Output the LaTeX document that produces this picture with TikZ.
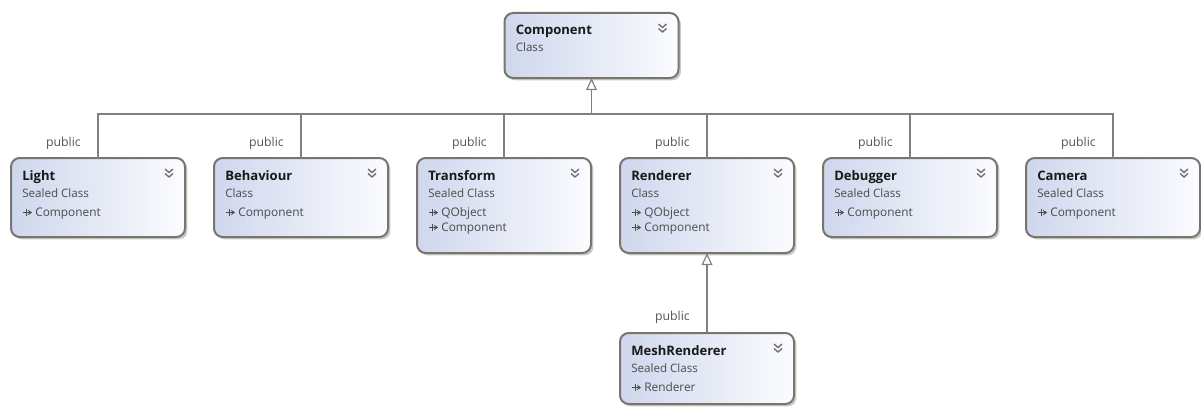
\documentclass[tikz,border=0pt]{standalone}
\usepackage{fontspec}
\setmainfont{Open Sans}
\usetikzlibrary{shadows,calc,arrows.meta}
\definecolor{bord}{RGB}{120,117,108}
\definecolor{boxl}{RGB}{207,215,237}
\definecolor{boxr}{RGB}{251,252,255}
\definecolor{tcol}{RGB}{25,25,25}
\definecolor{subcol}{RGB}{75,75,75}
\definecolor{pubcol}{RGB}{85,85,85}
\definecolor{conncol}{RGB}{128,128,128}
\definecolor{chevcol}{RGB}{110,110,110}
\tikzset{
  cls/.style={draw=bord, line width=1.5pt, rounded corners=6.5pt,
    left color=boxl, right color=boxr, minimum width=130.5pt,
    inner sep=0pt, outer sep=0pt,
    drop shadow={shadow xshift=1.8pt, shadow yshift=-1.8pt, opacity=0.3, fill=black!70}},
  ttl/.style={anchor=base west, inner sep=0pt, font=\bfseries\fontsize{9.8}{11}\selectfont, text=tcol},
  sub/.style={anchor=base west, inner sep=0pt, font=\fontsize{8.7}{10}\selectfont, text=subcol},
  mem/.style={anchor=base west, inner sep=0pt, font=\fontsize{8.9}{10}\selectfont, text=subcol},
  pub/.style={anchor=base east, inner sep=0pt, font=\fontsize{9.2}{11}\selectfont, text=pubcol},
  chev/.style={draw=chevcol, line width=1pt},
  conn/.style={draw=conncol, line width=0.9pt},
  inh/.style={conn, -{Triangle[open, width=8pt, length=9pt, line width=0.9pt]}},
  memarrow/.style={draw=subcol, line width=0.7pt, -{Stealth[length=3pt, width=4pt]}},
  memtick/.style={draw=subcol, line width=0.7pt},
}
\newcommand\classbox[6]{%
  \node[cls, minimum height=#4*0.75pt, anchor=north] (#1) at (#2,#3) {};
  \node[ttl] (#1-t) at ($(#1.north west)+(11,22)$) {#5};
  \node[sub] (#1-s) at ($(#1.north west)+(11,39)$) {#6};
  \draw[chev] ($(#1.north east)+(-20,11)$) -- ++(4,3.5) -- ++(4,-3.5);
  \draw[chev] ($(#1.north east)+(-20,15.5)$) -- ++(4,3.5) -- ++(4,-3.5);
}
\newcommand\classmembers[2]{%
  \foreach \m [count=\i] in {#2} {%
    \node[mem] (#1-m\i) at ($(#1.north west)+(24,{58+15*(\i-1)})$) {\m};
    \draw[memarrow] ($(#1.north west)+(12,{58+15*(\i-1)-3.5})$) -- ++(9,0);
    \draw[memtick] ($(#1.north west)+(15,{58+15*(\i-1)-7})$) -- ++(0,7);
  }%
}
\begin{document}
\begin{tikzpicture}[x=0.75pt,y=-0.75pt]
\useasboundingbox (0,0) rectangle (1201,410);
\classbox{comp}{591.5}{13}{65}{Component}{Class}
\classbox{light}{98}{158}{79}{Light}{Sealed Class}
\classmembers{light}{Component}
\classbox{behav}{301}{158}{79}{Behaviour}{Class}
\classmembers{behav}{Component}
\classbox{trans}{504}{158}{95}{Transform}{Sealed Class}
\classmembers{trans}{QObject,Component}
\classbox{rend}{707}{158}{95}{Renderer}{Class}
\classmembers{rend}{QObject,Component}
\classbox{debug}{910}{158}{79}{Debugger}{Sealed Class}
\classmembers{debug}{Component}
\classbox{cam}{1113}{158}{79}{Camera}{Sealed Class}
\classmembers{cam}{Component}
\classbox{mesh}{707}{333}{71}{MeshRenderer}{Sealed Class}
\classmembers{mesh}{Renderer}
\coordinate (bus) at (591.5,114);
\draw[inh] (bus) -- (comp.south);
\foreach \n in {light,behav,trans,rend,debug,cam} {
  \draw[conn] (\n.north) |- (bus);
  \node[pub] (\n-pub) at ($(\n.north)+(-17,-12)$) {public};
}
\draw[inh] (mesh.north) -- (rend.south);
\node[pub] (mesh-pub) at ($(mesh.north)+(-17,-13)$) {public};
\end{tikzpicture}
\end{document}
